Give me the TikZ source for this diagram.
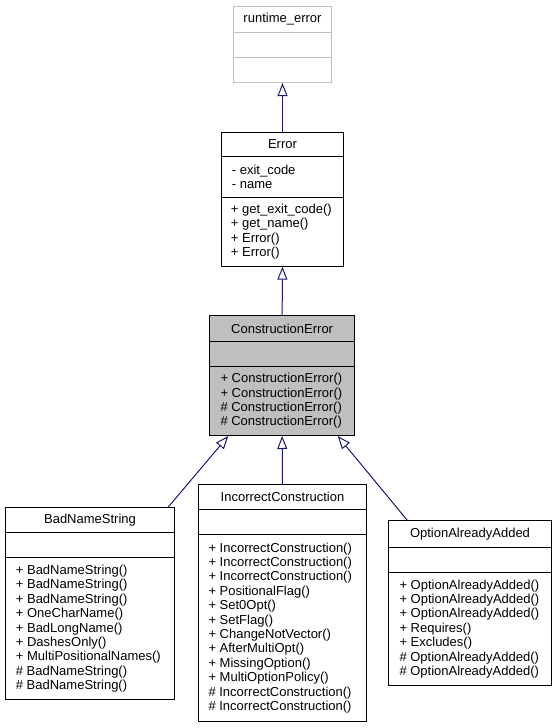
\documentclass[tikz,border=0pt]{standalone}
\usepackage{fontspec}
\setmainfont{Liberation Sans}
\usetikzlibrary{arrows.meta}
\definecolor{lightborder}{HTML}{BFBFBF}
\definecolor{cefill}{HTML}{BFBFBF}
\definecolor{edgecol}{HTML}{191970}
\tikzset{
  cls/.style={draw=black, line width=1pt, inner sep=0pt, anchor=north west, align=center,
    font=\fontsize{13}{14.4}\selectfont},
  members/.style={inner sep=0pt, anchor=west, align=left, font=\fontsize{13}{14.4}\selectfont},
  inh/.style={draw=edgecol, line width=1pt, -{Triangle[open, length=13pt, width=10pt]}},
}
\begin{document}
\begin{tikzpicture}[x=1pt,y=-1pt]
\useasboundingbox (0,0) rectangle (556,728);
% runtime_error
\node[cls, draw=lightborder, minimum width=98pt, minimum height=26pt] (rt1) at (233,6) {runtime\_error};
\node[cls, draw=lightborder, minimum width=98pt, minimum height=25pt] (rt2) at (233,32) {};
\node[cls, draw=lightborder, minimum width=98pt, minimum height=25pt] (rt3) at (233,57) {};
% Error
\node[cls, minimum width=122.6pt, minimum height=24.3pt] (err1) at (220.7,131.7) {Error};
\node[cls, minimum width=122.6pt, minimum height=40.7pt] (err2) at (220.7,156) {};
\node[members] (err2t) at ([xshift=11pt]err2.west) {- exit\_code\\- name};
\node[cls, minimum width=122.6pt, minimum height=69pt] (err3) at (220.7,196.7) {};
\node[members] (err3t) at ([xshift=10pt]err3.west) {+ get\_exit\_code()\\+ get\_name()\\+ Error()\\+ Error()};
% ConstructionError
\node[cls, fill=cefill, minimum width=144.7pt, minimum height=26pt] (ce1) at (209.3,315) {ConstructionError};
\node[cls, fill=cefill, minimum width=144.7pt, minimum height=25pt] (ce2) at (209.3,341) {};
\node[cls, fill=cefill, minimum width=144.7pt, minimum height=69pt] (ce3) at (209.3,366) {};
\node[members] (ce3t) at ([xshift=11pt]ce3.west) {+ ConstructionError()\\+ ConstructionError()\\\# ConstructionError()\\\# ConstructionError()};
% BadNameString
\node[cls, minimum width=169.6pt, minimum height=25pt] (bns1) at (4.7,507) {BadNameString};
\node[cls, minimum width=169.6pt, minimum height=25pt] (bns2) at (4.7,532) {};
\node[cls, minimum width=169.6pt, minimum height=142.3pt] (bns3) at (4.7,557) {};
\node[members] (bns3t) at ([xshift=11pt]bns3.west) {+ BadNameString()\\+ BadNameString()\\+ BadNameString()\\+ OneCharName()\\+ BadLongName()\\+ DashesOnly()\\+ MultiPositionalNames()\\\# BadNameString()\\\# BadNameString()};
% IncorrectConstruction
\node[cls, minimum width=167.4pt, minimum height=25pt] (ic1) at (198.3,484.3) {IncorrectConstruction};
\node[cls, minimum width=167.4pt, minimum height=25pt] (ic2) at (198.3,509.3) {};
\node[cls, minimum width=167.4pt, minimum height=186.4pt] (ic3) at (198.3,534.3) {};
\node[members] (ic3t) at ([xshift=10pt]ic3.west) {+ IncorrectConstruction()\\+ IncorrectConstruction()\\+ IncorrectConstruction()\\+ PositionalFlag()\\+ Set0Opt()\\+ SetFlag()\\+ ChangeNotVector()\\+ AfterMultiOpt()\\+ MissingOption()\\+ MultiOptionPolicy()\\\# IncorrectConstruction()\\\# IncorrectConstruction()};
% OptionAlreadyAdded
\node[cls, minimum width=162.4pt, minimum height=26.4pt] (oaa1) at (388.3,520.3) {OptionAlreadyAdded};
\node[cls, minimum width=162.4pt, minimum height=25pt] (oaa2) at (388.3,546.7) {};
\node[cls, minimum width=162.4pt, minimum height=113.3pt] (oaa3) at (388.3,571.7) {};
\node[members] (oaa3t) at ([xshift=11pt]oaa3.west) {+ OptionAlreadyAdded()\\+ OptionAlreadyAdded()\\+ OptionAlreadyAdded()\\+ Requires()\\+ Excludes()\\\# OptionAlreadyAdded()\\\# OptionAlreadyAdded()};
% inheritance edges
\draw[inh] (err1.north) -- (rt3.south);
\draw[inh] (ce1.north) -- (err3.south);
\draw[inh] ([xshift=-7pt]bns1.north east) -- ([xshift=19pt]ce3.south west);
\draw[inh] (ic1.north) -- (ce3.south);
\draw[inh] ([xshift=19pt]oaa1.north west) -- ([xshift=-17.3pt]ce3.south east);
\end{tikzpicture}
\end{document}
